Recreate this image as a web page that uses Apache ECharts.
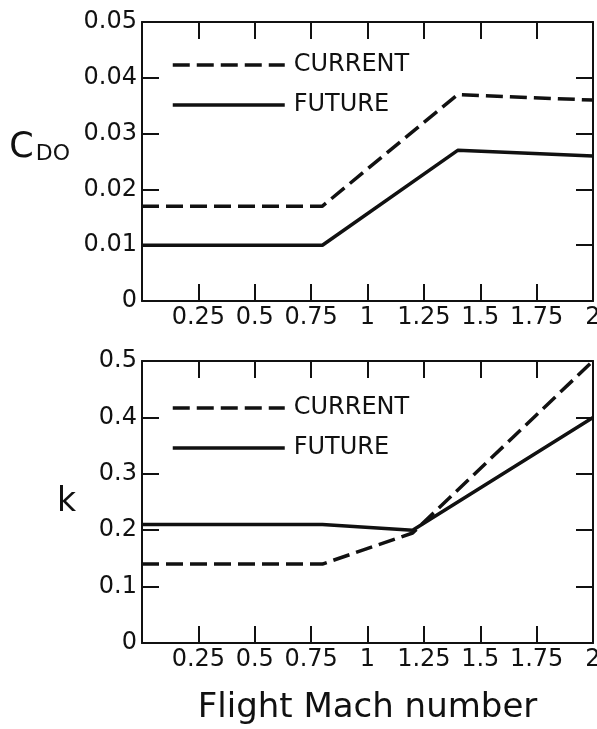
<!DOCTYPE html>
<html>
<head>
<meta charset="utf-8">
<script src="https://cdn.jsdelivr.net/npm/echarts@6/dist/echarts.min.js"></script>
<style>
  html, body { margin: 0; padding: 0; background: #fff; }
  #chart { width: 597px; height: 729px; }
</style>
</head>
<body>
<div id="chart"></div>
<script>
const machTicks = [0.25, 0.5, 0.75, 1, 1.25, 1.5, 1.75, 2];

const cdoMach = [0, 0.8, 1.4, 2];
const cdoCurrent = [0.017, 0.017, 0.037, 0.036];
const cdoFuture = [0.010, 0.010, 0.027, 0.026];

const kMach = [0, 0.8, 1.2, 2];
const kCurrent = [0.14, 0.14, 0.195, 0.5];
const kFuture = [0.21, 0.21, 0.2, 0.4];

const font = 'DejaVu Sans';
const ink = '#111';

function pairs(xs, ys) {
  return xs.map((x, i) => [x, ys[i]]);
}

function frameAxis(gridIndex, position, extra) {
  return Object.assign({
    type: 'value',
    gridIndex,
    position,
    axisLine: { show: true, onZero: false, lineStyle: { color: ink, width: 2 } },
    axisTick: { show: true, inside: true, length: 17, lineStyle: { color: ink, width: 2 } },
    splitLine: { show: false },
    axisLabel: { show: false }
  }, extra);
}

const xBase = { min: 0, max: 2, interval: 0.25 };
const xLabels = {
  show: true, color: ink, fontFamily: font, fontSize: 24, margin: 5,
  formatter: v => (machTicks.includes(v) ? String(v) : '')
};

const yLabel = { show: true, color: ink, fontFamily: font, fontSize: 24, margin: 5 };

function series(name, xs, ys, dashed, xi, yi) {
  return {
    name,
    type: 'line',
    xAxisIndex: xi,
    yAxisIndex: yi,
    data: pairs(xs, ys),
    symbol: 'none',
    lineStyle: { color: ink, width: 3.5, type: dashed ? [17, 7] : 'solid' },
    itemStyle: { color: ink },
    silent: true
  };
}

function legend(top) {
  return {
    orient: 'vertical',
    left: 166,
    top,
    itemWidth: 112,
    itemHeight: 22,
    itemGap: 16,
    selectedMode: false,
    itemStyle: { opacity: 0 },
    lineStyle: { width: 3.5 },
    textStyle: { color: ink, fontFamily: font, fontSize: 24, padding: [0, 0, 0, 4] },
    data: ['CURRENT', 'FUTURE']
  };
}

const chart = echarts.init(document.getElementById('chart'));
chart.setOption({
  animation: false,
  backgroundColor: '#fff',
  grid: [
    { left: 142, top: 22, right: 4, height: 279, containLabel: false, outerBoundsMode: 'none' },
    { left: 142, top: 361, right: 4, height: 282, containLabel: false, outerBoundsMode: 'none' }
  ],
  legend: [legend(48), legend(391)],
  xAxis: [
    frameAxis(0, 'bottom', Object.assign({}, xBase, { axisLabel: xLabels })),
    frameAxis(0, 'top', xBase),
    frameAxis(1, 'bottom', Object.assign({}, xBase, {
      axisLabel: xLabels,
      name: 'Flight Mach number',
      nameLocation: 'middle',
      nameGap: 48,
      nameTextStyle: { color: ink, fontFamily: font, fontSize: 34 }
    })),
    frameAxis(1, 'top', xBase)
  ],
  yAxis: [
    frameAxis(0, 'left', {
      min: 0, max: 0.05, interval: 0.01,
      axisLabel: yLabel,
      name: '{c|C}{s|DO}',
      nameLocation: 'middle',
      nameRotate: 0,
      nameGap: 72,
      nameTextStyle: {
        padding: [0, 0, 28, 0],
        rich: {
          c: { color: ink, fontFamily: font, fontSize: 35, verticalAlign: 'bottom' },
          s: { color: ink, fontFamily: font, fontSize: 22, verticalAlign: 'bottom', padding: [0, 0, 0, 2] }
        }
      }
    }),
    frameAxis(0, 'right', { min: 0, max: 0.05, interval: 0.01 }),
    frameAxis(1, 'left', {
      min: 0, max: 0.5, interval: 0.1,
      axisLabel: yLabel,
      name: 'k',
      nameLocation: 'middle',
      nameRotate: 0,
      nameGap: 66,
      nameTextStyle: { color: ink, fontFamily: font, fontSize: 33 }
    }),
    frameAxis(1, 'right', { min: 0, max: 0.5, interval: 0.1 })
  ],
  series: [
    series('CURRENT', cdoMach, cdoCurrent, true, 0, 0),
    series('FUTURE', cdoMach, cdoFuture, false, 0, 0),
    series('CURRENT', kMach, kCurrent, true, 2, 2),
    series('FUTURE', kMach, kFuture, false, 2, 2)
  ]
});
</script>
</body>
</html>
